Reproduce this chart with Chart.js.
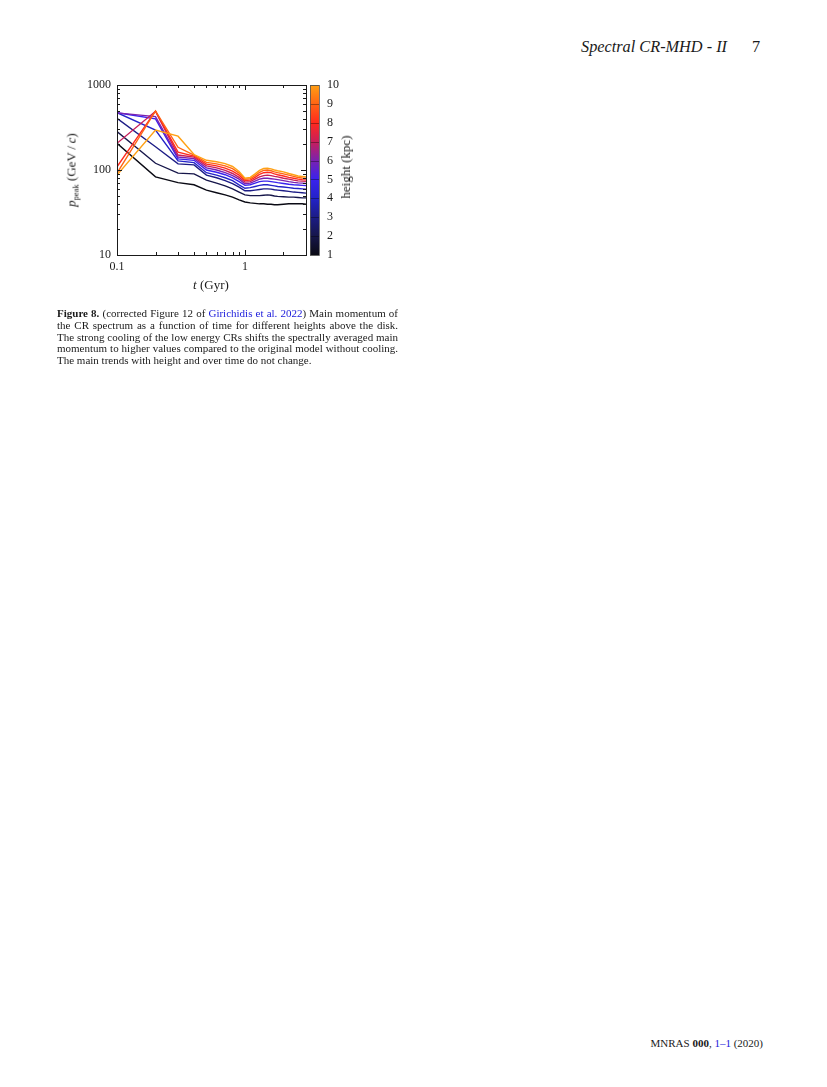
<!DOCTYPE html>
<html>
<head>
<meta charset="utf-8">
<script src="https://cdn.jsdelivr.net/npm/chart.js@4.4.1/dist/chart.umd.min.js"></script>
<style>
  body { margin: 0; background: #fff; }
  #page { position: relative; width: 827px; height: 1087px; overflow: hidden; font-family: 'Liberation Serif', serif; color: #1a1a1a; }
  #chart { position: absolute; left: 0; top: 0; }
  .runhead { position: absolute; top: 37px; font-style: italic; font-size: 16.3px; }
  .ytitle { position: absolute; left: 72px; top: 170px; font-size: 13px; white-space: nowrap; transform: translate(-50%, -50%) rotate(-90deg); }
  .xtitle { position: absolute; left: 211px; top: 285px; font-size: 13px; white-space: nowrap; transform: translate(-50%, -50%); }
  .ctitle { position: absolute; left: 346px; top: 167px; font-size: 13px; white-space: nowrap; transform: translate(-50%, -50%) rotate(-90deg); }
  sub { font-size: 8.5px; font-style: normal; vertical-align: -3px; }
  #caption { position: absolute; left: 57px; top: 308px; width: 341px; font-size: 11px; line-height: 11.8px; }
  #caption span { display: block; text-align: justify; text-align-last: justify; }
  #caption span.last { text-align-last: left; }
  .blue { color: #1a1adb; }
  #foot { position: absolute; top: 1037px; right: 64px; font-size: 11px; }
</style>
</head>
<body>
<div id="page">
  <div class="runhead" style="left:581px;">Spectral CR-MHD - II</div>
  <div class="runhead" style="left:752px; font-style:normal;">7</div>

  <canvas id="chart" width="400" height="300"></canvas>
  <div class="ytitle"><i>p</i><sub>peak</sub> (GeV&thinsp;/&thinsp;<i>c</i>)</div>
  <div class="xtitle"><i>t</i> (Gyr)</div>
  <div class="ctitle">height (kpc)</div>

  <div id="caption">
    <span><b>Figure 8.</b> (corrected Figure 12 of <span class="blue" style="display:inline">Girichidis et al. 2022</span>) Main momentum of</span>
    <span>the CR spectrum as a function of time for different heights above the disk.</span>
    <span>The strong cooling of the low energy CRs shifts the spectrally averaged main</span>
    <span>momentum to higher values compared to the original model without cooling.</span>
    <span class="last">The main trends with height and over time do not change.</span>
  </div>

  <div id="foot">MNRAS <b>000</b>, <span class="blue">1–1</span> (2020)</div>
</div>

<script>
// time in Gyr
const times = [0.1, 0.2, 0.3, 0.4, 0.5, 0.6, 0.7, 0.8, 0.9, 1.0, 1.1, 1.2, 1.3, 1.4, 1.5, 1.6, 1.7, 1.8, 2.0, 2.2, 2.4, 2.6, 2.8, 3.0];

// p_peak (GeV/c) for each height
const ppeak1  = [206, 83, 71, 67, 58, 54, 51, 48, 44.5, 42, 41, 40.5, 40, 40, 39.5, 39.5, 39, 39, 39.5, 40, 40, 40, 40, 39.5];
const ppeak2  = [283, 120, 92, 90, 76, 70, 65, 60, 55, 51, 50, 50, 50, 50.5, 51, 50.5, 49.5, 49, 48.5, 48, 48, 47.5, 47, 47];
const ppeak3  = [405, 188, 118, 115, 87, 81, 75, 69, 63, 57, 57, 58, 59, 60, 60, 59.5, 58.5, 58, 57, 56, 55, 54.5, 54, 53.5];
const ppeak4  = [472, 295, 128, 122, 93, 87, 81, 75, 67, 61, 62, 64, 66, 67, 67, 66, 65, 64, 63, 62, 61, 60.5, 60, 59.5];
const ppeak5  = [472, 400, 135, 130, 100, 94, 88, 81, 73, 66, 67, 70, 73, 74, 74, 73, 72, 71, 69.5, 68, 67, 66.5, 66, 65.5];
const ppeak6  = [470, 425, 142, 136, 106, 100, 93, 86, 78, 69, 70, 74, 78, 80, 80, 79, 78, 77, 75, 73, 71.5, 70.5, 70, 69.5];
const ppeak7  = [206, 490, 150, 142, 112, 106, 99, 91, 82, 72, 73, 78, 83, 86, 87, 86, 84, 83, 80, 78, 76, 74.5, 74, 73.5];
const ppeak8  = [109, 495, 162, 146, 117, 112, 105, 97, 87, 75, 76, 82, 89, 93, 94, 93, 90, 88, 85, 82, 80, 78, 77, 76.5];
const ppeak9  = [92, 495, 185, 150, 123, 118, 112, 104, 92, 78, 79, 86, 94, 99, 100, 98, 95, 93, 90, 87, 84, 81.5, 80.5, 80];
const ppeak10 = [87, 295, 250, 152, 130, 125, 119, 110, 96, 80, 82, 90, 99, 104, 105, 103, 100, 98, 95, 91, 88, 85, 84, 83];

const heights = [1, 2, 3, 4, 5, 6, 7, 8, 9, 10];
const heightColors = ['#0a0a14', '#16164a', '#1c1c86', '#2323c8', '#3a22ee', '#7a22b0', '#c81e5a', '#ff2a1e', '#ff6414', '#ffa014'];

const xLabels = [0.1, 1];
const xMinor = [0.2, 0.3, 0.4, 0.5, 0.6, 0.7, 0.8, 0.9, 2, 3];
const yLabels = [10, 100, 1000];
const yMinor = [20, 30, 40, 50, 60, 70, 80, 90, 200, 300, 400, 500, 600, 700, 800, 900];

const series = [ppeak1, ppeak2, ppeak3, ppeak4, ppeak5, ppeak6, ppeak7, ppeak8, ppeak9, ppeak10];

// highest first so that the orange line ends up drawn on top
const datasets = series.map((vals, i) => ({
    label: heights[i] + ' kpc',
    data: vals.map((v, j) => ({ x: times[j], y: v })),
    borderColor: heightColors[i],
    borderWidth: 1.4,
    pointRadius: 0,
    tension: 0,
    fill: false
})).reverse();

const frameAndTicks = {
    id: 'frameAndTicks',
    afterDraw(chart) {
        const ctx = chart.ctx;
        const a = chart.chartArea;
        const xs = chart.scales.x, ys = chart.scales.y;
        ctx.save();
        ctx.strokeStyle = '#1a1a1a';
        ctx.lineWidth = 1;
        ctx.strokeRect(Math.round(a.left) + 0.5, Math.round(a.top) + 0.5, Math.round(a.right - a.left), Math.round(a.bottom - a.top));

        function xTick(v, len) {
            const px = Math.round(xs.getPixelForValue(v)) + 0.5;
            ctx.beginPath();
            ctx.moveTo(px, a.bottom); ctx.lineTo(px, a.bottom - len);
            ctx.moveTo(px, a.top); ctx.lineTo(px, a.top + len);
            ctx.stroke();
        }
        function yTick(v, len) {
            const py = Math.round(ys.getPixelForValue(v)) + 0.5;
            ctx.beginPath();
            ctx.moveTo(a.left, py); ctx.lineTo(a.left + len, py);
            ctx.moveTo(a.right, py); ctx.lineTo(a.right - len, py);
            ctx.stroke();
        }
        xLabels.forEach(v => xTick(v, 5));
        xMinor.forEach(v => xTick(v, 3));
        yLabels.forEach(v => yTick(v, 5));
        yMinor.forEach(v => yTick(v, 3));

        // colour bar for height
        const cb = chart.scales.cb;
        const x0 = a.right + 4, w = 9;
        const top = cb.getPixelForValue(10), bot = cb.getPixelForValue(1);
        const grad = ctx.createLinearGradient(0, bot, 0, top);
        heightColors.forEach((c, i) => grad.addColorStop(i / (heightColors.length - 1), c));
        ctx.fillStyle = grad;
        ctx.fillRect(x0, top, w, bot - top);
        ctx.strokeStyle = 'rgba(0,0,0,0.35)';
        heights.forEach(h => {
            const py = Math.round(cb.getPixelForValue(h)) + 0.5;
            ctx.beginPath();
            ctx.moveTo(x0, py); ctx.lineTo(x0 + w, py);
            ctx.stroke();
        });
        ctx.strokeStyle = '#555';
        ctx.lineWidth = 0.8;
        ctx.strokeRect(x0 + 0.5, top + 0.5, w, bot - top);
        ctx.fillStyle = '#1a1a1a';
        ctx.font = "12px 'Liberation Serif'";
        ctx.textAlign = 'left';
        ctx.textBaseline = 'middle';
        heights.forEach(h => ctx.fillText(String(h), x0 + w + 8, cb.getPixelForValue(h)));
        ctx.restore();
    }
};

const tickFont = { family: 'Liberation Serif', size: 12 };

new Chart(document.getElementById('chart'), {
    type: 'line',
    data: { datasets: datasets },
    options: {
        responsive: false,
        devicePixelRatio: 1,
        animation: false,
        layout: { padding: { left: 0, top: 85, right: 94, bottom: 25 } },
        plugins: { legend: { display: false }, tooltip: { enabled: false } },
        scales: {
            x: {
                type: 'logarithmic', min: 0.1, max: 3,
                grid: { display: false, drawTicks: false }, border: { display: false },
                afterBuildTicks: s => { s.ticks = xLabels.map(v => ({ value: v })); },
                afterFit: s => { s.height = 20; },
                ticks: { font: tickFont, color: '#1a1a1a', padding: 5, maxRotation: 0, autoSkip: false, callback: v => String(v) }
            },
            y: {
                type: 'logarithmic', min: 10, max: 1000,
                grid: { display: false, drawTicks: false }, border: { display: false },
                afterBuildTicks: s => { s.ticks = yLabels.map(v => ({ value: v })); },
                afterFit: s => { s.width = 117; },
                ticks: { font: tickFont, color: '#1a1a1a', padding: 6, autoSkip: false, callback: v => String(v) }
            },
            cb: {
                type: 'linear', position: 'right', min: 1, max: 10, display: false
            }
        }
    },
    plugins: [frameAndTicks]
});
</script>
</body>
</html>
